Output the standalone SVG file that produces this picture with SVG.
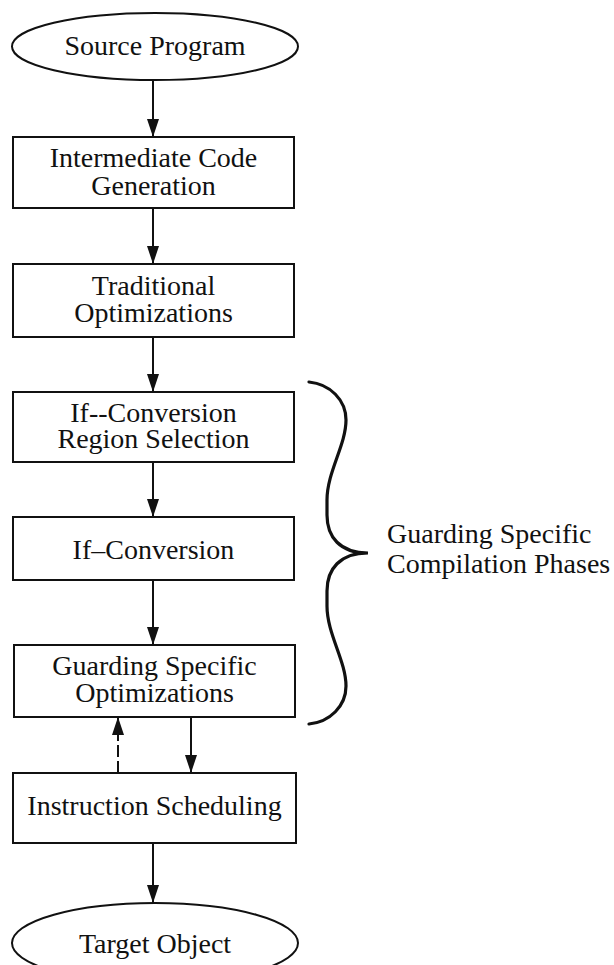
<svg xmlns="http://www.w3.org/2000/svg" width="614" height="965" viewBox="0 0 614 965" font-family="'Liberation Serif', Tinos, 'Times New Roman', Times, serif">
  <style>
    .shape { fill: #fff; stroke: #111; stroke-width: 2; }
    .label { font-family: 'Liberation Serif', Tinos, 'Times New Roman', Times, serif; font-size: 28px; fill: #111; text-anchor: middle; }
    .side { font-family: 'Liberation Serif', Tinos, 'Times New Roman', Times, serif; font-size: 28px; fill: #111; text-anchor: start; }
    .flow { fill: none; stroke: #111; stroke-width: 2; marker-end: url(#head); }
    .dashed { stroke-dasharray: 12 4; }
    .brace { fill: none; stroke: #111; stroke-width: 3.2; stroke-linecap: round; }
  </style>
  <defs>
    <marker id="head" markerUnits="userSpaceOnUse" markerWidth="18" markerHeight="12" refX="18" refY="6" orient="auto">
      <path d="M0,0 L18,6 L0,12 Z" fill="#111"/>
    </marker>
  </defs>
  <rect width="614" height="965" fill="#fff"/>

  <g id="connectors">
    <line class="flow" x1="153" y1="80" x2="153" y2="137"/>
    <line class="flow" x1="153" y1="208" x2="153" y2="264"/>
    <line class="flow" x1="153" y1="337" x2="153" y2="392"/>
    <line class="flow" x1="153" y1="462" x2="153" y2="517"/>
    <line class="flow" x1="153" y1="580" x2="153" y2="645"/>
    <line class="flow" x1="191" y1="717" x2="191" y2="773"/>
    <line class="flow dashed" x1="118" y1="773" x2="118" y2="717"/>
    <line class="flow" x1="153" y1="843" x2="153" y2="903"/>
  </g>

  <g id="source-program">
    <ellipse class="shape" cx="155" cy="46.5" rx="143" ry="33.5"/>
    <text class="label" x="155" y="55">Source Program</text>
  </g>

  <g id="intermediate-code-generation">
    <rect class="shape" x="13" y="137" width="281" height="71"/>
    <text class="label" x="153.5" y="167">Intermediate Code</text>
    <text class="label" x="153.5" y="195">Generation</text>
  </g>

  <g id="traditional-optimizations">
    <rect class="shape" x="13" y="264" width="281" height="73"/>
    <text class="label" x="153.5" y="295">Traditional</text>
    <text class="label" x="153.5" y="322">Optimizations</text>
  </g>

  <g id="region-selection">
    <rect class="shape" x="13" y="392" width="281" height="70"/>
    <text class="label" x="153.5" y="422">If--Conversion</text>
    <text class="label" x="153.5" y="448">Region Selection</text>
  </g>

  <g id="if-conversion">
    <rect class="shape" x="13" y="517" width="281" height="63"/>
    <text class="label" x="153.5" y="559">If–Conversion</text>
  </g>

  <g id="guarding-optimizations">
    <rect class="shape" x="14" y="645" width="281" height="72"/>
    <text class="label" x="154.5" y="675">Guarding Specific</text>
    <text class="label" x="154.5" y="702">Optimizations</text>
  </g>

  <g id="instruction-scheduling">
    <rect class="shape" x="13" y="773" width="283" height="70"/>
    <text class="label" x="154.5" y="815">Instruction Scheduling</text>
  </g>

  <g id="target-object">
    <ellipse class="shape" cx="155" cy="943" rx="143" ry="40"/>
    <text class="label" x="155" y="953">Target Object</text>
  </g>

  <g id="phase-group">
    <path class="brace" d="M309,382 C330,384 346,400 346,420 C346,445 327,472 327,500 L327,515 C327,537 340,553 368,553 C340,553 327,569 327,591 L327,606 C327,634 346,661 346,686 C346,706 330,722 309,724"/>
    <text class="side" x="387" y="543" font-family="'Liberation Serif', Tinos, serif">Guarding Specific</text>
    <text class="side" x="387" y="573" font-family="'Liberation Serif', Tinos, serif">Compilation Phases</text>
  </g>
</svg>
